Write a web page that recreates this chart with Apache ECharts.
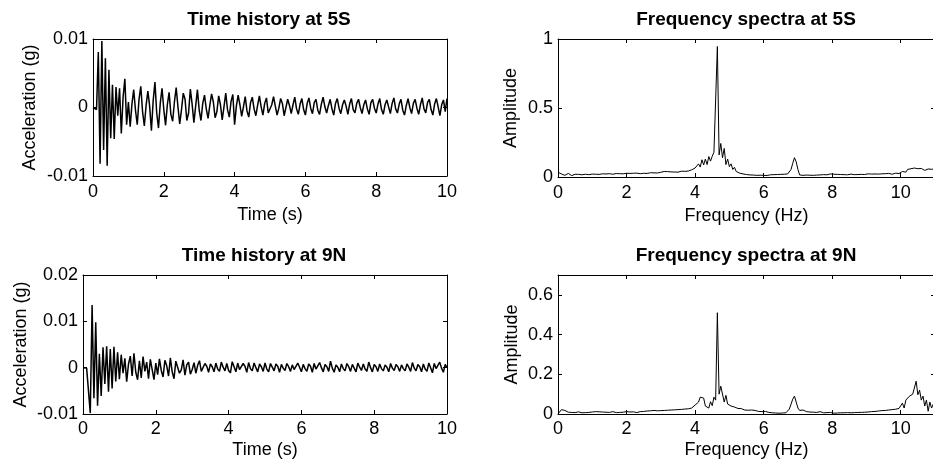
<!DOCTYPE html>
<html>
<head>
<meta charset="utf-8">
<script src="https://cdn.jsdelivr.net/npm/echarts@6.0.0/dist/echarts.min.js"></script>
<style>
  html, body { margin: 0; padding: 0; background: #fff; }
  #chart { width: 933px; height: 464px; }
</style>
</head>
<body>
<div id="chart"></div>
<script>
// sampling steps of the recorded signals
const dt = 0.05;   // s
const df = 0.05;   // Hz

// acceleration at 5S (g), one row per second
const acc5S = [
  0, 0.0002, -0.0003, 0.0081, -0.0082, 0.0097, -0.0062, 0.0072, -0.0085, 0.0055, -0.0045, 0.0033, -0.0046, 0.0030, -0.0012, 0.0028, -0.0038, 0.0015, 0.0042, -0.0025,
  0.0008, -0.0028, 0.0005, 0.0026, -0.0004, -0.0025, 0.0012, 0.0031, -0.0006, -0.0027, 0.0003, 0.0024, 0.0002, -0.0034, 0.0010, 0.0037, -0.0008, -0.0030, 0.0006, 0.0028,
  -0.0003, -0.0026, 0.0004, 0.0022, -0.0010, -0.0020, 0.0008, 0.0029, 0.0001, -0.0024, -0.0003, 0.0021, 0.0012, -0.0019, -0.0008, 0.0027, 0.0005, -0.0022, 0.0002, 0.0026,
  -0.0004, -0.0019, 0.0006, 0.0018, -0.0002, -0.0016, 0.0003, 0.0020, 0.0008, -0.0015, -0.0006, 0.0017, 0.0004, -0.0018, 0.0001, 0.0021, -0.0003, -0.0014, 0.0009, 0.0019,
  -0.0025, 0.0002, 0.0018, 0.0004, -0.0013, 0.0001, 0.0016, -0.0005, -0.0014, 0.0007, 0.0015, -0.0002, -0.0012, 0.0003, 0.0017, 0.0001, -0.0011, 0.0006, 0.0014, -0.0008,
  -0.0010, 0.0004, 0.0016, 0.0002, -0.0011, -0.0001, 0.0013, 0.0006, -0.0012, 0.0000, 0.0012, 0.0003, -0.0009, 0.0004, 0.0015, -0.0002, -0.0010, 0.0005, 0.0013, -0.0003,
  -0.0011, 0.0006, 0.0014, -0.0001, -0.0009, 0.0007, 0.0012, -0.0004, -0.0010, 0.0005, 0.0015, 0.0001, -0.0008, 0.0003, 0.0012, -0.0002, -0.0011, 0.0006, 0.0013, -0.0001,
  -0.0009, 0.0004, 0.0011, 0.0002, -0.0010, 0.0005, 0.0013, -0.0003, -0.0008, 0.0006, 0.0012, 0.0000, -0.0009, 0.0004, 0.0011, -0.0002, -0.0010, 0.0007, 0.0012, -0.0001,
  -0.0008, 0.0005, 0.0013, -0.0003, -0.0010, 0.0004, 0.0011, 0.0001, -0.0009, 0.0006, 0.0014, -0.0002, -0.0008, 0.0005, 0.0012, -0.0004, -0.0011, 0.0003, 0.0013, 0.0000,
  -0.0009, 0.0006, 0.0012, -0.0001, -0.0010, 0.0004, 0.0014, -0.0002, -0.0008, 0.0007, 0.0012, -0.0003, -0.0011, 0.0005, 0.0013, 0.0001, -0.0012, 0.0004, 0.0011, -0.0006,
  0.0013
];

// acceleration at 9N (g)
const acc9N = [
  0.0000, 0.0002, -0.0001, 0.0003, -0.0098, 0.0135, -0.0066, 0.0098, -0.0082, 0.0030, -0.0061, 0.0044, -0.0035, 0.0046, -0.0052, 0.0040, -0.0045, 0.0045, -0.0030, 0.0033,
  -0.0025, 0.0028, -0.0012, 0.0020, -0.0030, 0.0008, 0.0025, -0.0018, 0.0031, -0.0010, -0.0026, 0.0015, -0.0022, 0.0024, -0.0008, 0.0012, -0.0024, 0.0018, 0.0022, -0.0026,
  0.0010, -0.0015, 0.0019, -0.0006, -0.0020, 0.0016, 0.0004, -0.0018, 0.0021, -0.0009, -0.0024, 0.0014, 0.0018, -0.0012, -0.0005, 0.0017, -0.0016, 0.0006, 0.0012, -0.0014,
  -0.0004, 0.0011, -0.0012, 0.0005, 0.0015, -0.0008, -0.0011, 0.0009, 0.0003, -0.0010, 0.0008, 0.0002, -0.0009, 0.0010, -0.0003, -0.0008, 0.0012, 0.0001, -0.0007, 0.0009,
  -0.0006, -0.0011, 0.0013, 0.0002, -0.0009, 0.0010, -0.0004, -0.0008, 0.0009, 0.0003, -0.0010, 0.0011, -0.0002, -0.0007, 0.0010, 0.0000, -0.0009, 0.0008, 0.0002, -0.0008,
  0.0010, -0.0003, -0.0009, 0.0009, 0.0001, -0.0007, 0.0008, 0.0003, -0.0010, 0.0007, -0.0001, -0.0006, 0.0009, 0.0002, -0.0008, 0.0006, -0.0004, -0.0007, 0.0010, 0.0001,
  -0.0009, 0.0007, -0.0002, -0.0008, 0.0008, 0.0003, -0.0010, 0.0009, -0.0003, -0.0006, 0.0011, 0.0000, -0.0009, 0.0007, 0.0002, -0.0008, 0.0014, -0.0001, -0.0010, 0.0006,
  0.0001, -0.0009, 0.0008, -0.0002, -0.0007, 0.0009, 0.0002, -0.0008, 0.0007, -0.0001, -0.0009, 0.0010, 0.0001, -0.0006, 0.0008, -0.0003, -0.0008, 0.0012, 0.0000, -0.0009,
  0.0007, 0.0002, -0.0008, 0.0008, -0.0002, -0.0007, 0.0006, 0.0001, -0.0009, 0.0009, -0.0001, -0.0006, 0.0007, 0.0002, -0.0008, 0.0006, -0.0002, -0.0007, 0.0008, 0.0001,
  -0.0008, 0.0011, -0.0001, -0.0007, 0.0007, 0.0002, -0.0009, 0.0008, -0.0003, -0.0008, 0.0010, 0.0000, -0.0011, 0.0009, -0.0002, -0.0006, 0.0012, -0.0001, -0.0010, 0.0007,
  0.0000
];

// spectral amplitude at 5S, one row per Hz
const amp5S = [
  0.035, 0.030, 0.022, 0.025, 0.012, 0.020, 0.026, 0.018, 0.010, 0.022, 0.020, 0.017, 0.019, 0.021, 0.016, 0.018, 0.020, 0.019, 0.017, 0.020,
  0.021, 0.018, 0.020, 0.022, 0.019, 0.021, 0.023, 0.020, 0.022, 0.021, 0.024, 0.022, 0.020, 0.023, 0.025, 0.022, 0.024, 0.026, 0.023, 0.025,
  0.027, 0.024, 0.026, 0.023, 0.027, 0.025, 0.028, 0.026, 0.024, 0.028, 0.027, 0.030, 0.026, 0.029, 0.031, 0.028, 0.030, 0.033, 0.029, 0.031,
  0.034, 0.036, 0.040, 0.042, 0.039, 0.041, 0.037, 0.040, 0.036, 0.038, 0.035, 0.039, 0.042, 0.038, 0.041, 0.045, 0.043, 0.048, 0.052, 0.050,
  0.065, 0.058, 0.095, 0.072, 0.125, 0.088, 0.130, 0.090, 0.148, 0.115, 0.150, 0.180, 0.190, 0.946, 0.160, 0.243, 0.140, 0.207, 0.090, 0.130,
  0.075, 0.095, 0.055, 0.070, 0.040, 0.035, 0.028, 0.030, 0.022, 0.025, 0.018, 0.020, 0.015, 0.018, 0.014, 0.016, 0.012, 0.015, 0.013, 0.010,
  0.012, 0.015, 0.011, 0.014, 0.016, 0.012, 0.017, 0.014, 0.018, 0.015, 0.019, 0.016, 0.020, 0.018, 0.022, 0.030, 0.055, 0.100, 0.140, 0.110,
  0.055, 0.015, 0.008, 0.012, 0.010, 0.014, 0.011, 0.013, 0.015, 0.012, 0.016, 0.014, 0.018, 0.015, 0.013, 0.017, 0.019, 0.016, 0.018, 0.022,
  0.028, 0.020, 0.017, 0.019, 0.016, 0.018, 0.020, 0.017, 0.019, 0.016, 0.018, 0.021, 0.018, 0.017, 0.020, 0.018, 0.016, 0.019, 0.021, 0.018,
  0.020, 0.023, 0.019, 0.021, 0.018, 0.022, 0.025, 0.021, 0.019, 0.023, 0.020, 0.024, 0.021, 0.026, 0.022, 0.020, 0.024, 0.028, 0.022, 0.025,
  0.012, 0.040, 0.030, 0.035, 0.055, 0.045, 0.060, 0.052, 0.065, 0.078, 0.060, 0.055, 0.062, 0.050, 0.048, 0.055, 0.058, 0.052, 0.056, 0.060,
  0.058
];

// spectral amplitude at 9N
const amp9N = [
  0.000, 0.010, 0.022, 0.028, 0.018, 0.012, 0.009, 0.011, 0.008, 0.010, 0.007, 0.009, 0.011, 0.008, 0.006, 0.009, 0.007, 0.010, 0.008, 0.006,
  0.010, 0.014, 0.012, 0.009, 0.011, 0.008, 0.010, 0.013, 0.009, 0.011, 0.008, 0.010, 0.012, 0.009, 0.007, 0.010, 0.008, 0.011, 0.009, 0.008,
  0.012, 0.009, 0.010, 0.008, 0.011, 0.009, 0.007, 0.010, 0.012, 0.009, 0.013, 0.011, 0.015, 0.012, 0.016, 0.014, 0.018, 0.013, 0.016, 0.015,
  0.017, 0.015, 0.018, 0.016, 0.019, 0.017, 0.020, 0.018, 0.021, 0.019, 0.022, 0.020, 0.023, 0.021, 0.025, 0.028, 0.026, 0.032, 0.030, 0.038,
  0.045, 0.035, 0.060, 0.085, 0.088, 0.080, 0.040, 0.048, 0.030, 0.062, 0.042, 0.085, 0.070, 0.510, 0.100, 0.140, 0.130, 0.060, 0.094, 0.050,
  0.060, 0.040, 0.045, 0.035, 0.030, 0.028, 0.025, 0.027, 0.022, 0.020, 0.023, 0.019, 0.017, 0.020, 0.016, 0.018, 0.015, 0.013, 0.016, 0.012,
  0.011, 0.013, 0.010, 0.008, 0.009, 0.006, 0.007, 0.005, 0.006, 0.004, 0.006, 0.005, 0.007, 0.006, 0.010, 0.025, 0.050, 0.075, 0.090, 0.060,
  0.030, 0.018, 0.015, 0.020, 0.016, 0.012, 0.014, 0.010, 0.013, 0.009, 0.011, 0.008, 0.010, 0.012, 0.008, 0.006, 0.009, 0.007, 0.005, 0.008,
  0.006, 0.004, 0.007, 0.005, 0.008, 0.006, 0.004, 0.006, 0.005, 0.007, 0.009, 0.006, 0.008, 0.007, 0.005, 0.008, 0.010, 0.008, 0.011, 0.009,
  0.012, 0.010, 0.014, 0.012, 0.016, 0.013, 0.018, 0.015, 0.019, 0.017, 0.021, 0.018, 0.022, 0.020, 0.025, 0.022, 0.027, 0.024, 0.026, 0.028,
  0.032, 0.055, 0.030, 0.070, 0.065, 0.089, 0.082, 0.100, 0.092, 0.165, 0.097, 0.120, 0.070, 0.090, 0.040, 0.070, 0.014, 0.060, 0.030, 0.050,
  0.040
];

const titles = ['Time history at 5S', 'Frequency spectra at 5S', 'Time history at 9N', 'Frequency spectra at 9N'];

const font = '"Liberation Sans", Arial, Helvetica, sans-serif';
const black = '#000';

const chart = echarts.init(document.getElementById('chart'), null, {renderer: 'canvas'});

function pairs(values, step) {
  return values.map((v, i) => [+(i * step).toFixed(2), v]);
}

// one MATLAB-like box per panel: bottom/left axes with labels, top/right with ticks only
const panels = [
  {grid: {left: 93, top: 39, width: 354, height: 137}, xMax: 10, yMin: -0.01, yMax: 0.01, yInt: 0.01,
    xName: 'Time (s)', yName: 'Acceleration (g)', xGap: 30, yGap: 54, xMargin: 7, titleX: 269, titleY: 10, lw: 1.5},
  {grid: {left: 558, top: 39, right: -2, height: 138}, xMax: 11, yMin: 0, yMax: 1, yInt: 0.5,
    xName: 'Frequency (Hz)', yName: 'Amplitude', xGap: 30, yGap: 38, xMargin: 7, titleX: 746, titleY: 10, lw: 1},
  {grid: {left: 83, top: 275, width: 364, height: 139}, xMax: 10, yMin: -0.01, yMax: 0.02, yInt: 0.01,
    xName: 'Time (s)', yName: 'Acceleration (g)', xGap: 27, yGap: 53, xMargin: 6, titleX: 264, titleY: 246, lw: 1.5},
  {grid: {left: 558, top: 275, right: -2, height: 139}, xMax: 11, yMin: 0, yMax: 0.7, yInt: 0.2,
    xName: 'Frequency (Hz)', yName: 'Amplitude', xGap: 27, yGap: 37, xMargin: 6, titleX: 746, titleY: 246, lw: 1},
];

const seriesData = [pairs(acc5S, dt), pairs(amp5S, df), pairs(acc9N, dt), pairs(amp9N, df)];

const textStyle = {color: black, fontSize: 18, fontFamily: font};
const grid = [], xAxis = [], yAxis = [], title = [], series = [];

panels.forEach((p, g) => {
  grid.push(Object.assign({show: false, containLabel: false, outerBoundsMode: 'none'}, p.grid));
  title.push({
    text: titles[g], left: p.titleX, top: p.titleY, textAlign: 'center', padding: 0,
    textStyle: {color: black, fontSize: 19, fontWeight: 'bold', fontFamily: font},
  });
  const tick = {show: true, inside: true, length: 4, lineStyle: {color: black, width: 1}};
  const line = {show: true, onZero: false, lineStyle: {color: black, width: 1}};
  ['bottom', 'top'].forEach((pos) => {
    xAxis.push({
      type: 'value', gridIndex: g, position: pos, min: 0, max: p.xMax, interval: 2,
      axisLine: line, axisTick: tick, splitLine: {show: false},
      axisLabel: pos === 'bottom'
        ? Object.assign({margin: p.xMargin, showMaxLabel: p.xMax === 10}, textStyle)
        : {show: false},
      name: pos === 'bottom' ? p.xName : '', nameLocation: 'middle', nameGap: p.xGap,
      nameTextStyle: textStyle,
    });
  });
  ['left', 'right'].forEach((pos) => {
    yAxis.push({
      type: 'value', gridIndex: g, position: pos, min: p.yMin, max: p.yMax, interval: p.yInt,
      axisLine: line, axisTick: tick, splitLine: {show: false},
      axisLabel: pos === 'left'
        ? Object.assign({margin: 5, showMaxLabel: p.yMax !== 0.7}, textStyle)
        : {show: false},
      name: pos === 'left' ? p.yName : '', nameLocation: 'middle', nameGap: p.yGap,
      nameTextStyle: textStyle,
    });
  });
  series.push({
    type: 'line', xAxisIndex: 2 * g, yAxisIndex: 2 * g, data: seriesData[g],
    symbol: 'none', showSymbol: false, silent: true,
    lineStyle: {color: black, width: p.lw},
  });
});

chart.setOption({
  animation: false,
  backgroundColor: '#fff',
  title, grid, xAxis, yAxis, series,
});
</script>
</body>
</html>
